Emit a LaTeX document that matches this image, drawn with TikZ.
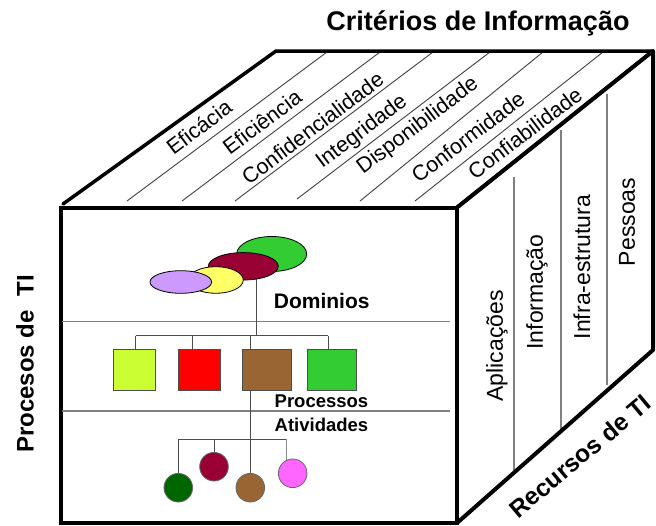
\documentclass[tikz,border=0pt]{standalone}
\usepackage{fontspec}
\setmainfont{Liberation Sans}
\usetikzlibrary{shapes.geometric}
\definecolor{clime}{HTML}{CCFF33}
\definecolor{cred}{HTML}{FF0000}
\definecolor{cbrown}{HTML}{996633}
\definecolor{cgreen}{HTML}{33CC33}
\definecolor{cmaroon}{HTML}{990033}
\definecolor{cyellow}{HTML}{FFFF66}
\definecolor{clav}{HTML}{CC99FF}
\definecolor{cdkgreen}{HTML}{006600}
\definecolor{cpink}{HTML}{FF66FF}
\definecolor{cgrayline}{HTML}{808080}
\begin{document}
\begin{tikzpicture}[x=1pt,y=-1pt,
  edge/.style={line width=4pt,line join=round,line cap=round},
  thinline/.style={line width=0.9pt,draw=black!75},
  grayline/.style={line width=1.1pt,draw=cgrayline},
  tree/.style={line width=1pt,draw=black!70},
  ell/.style={ellipse,draw=black,line width=0.8pt,inner sep=0pt},
  sq/.style={rectangle,draw=black!70,line width=1pt,inner sep=0pt,minimum height=40.7pt},
  dot/.style={circle,draw=black!60,line width=0.8pt,inner sep=0pt,minimum size=28.6pt},
  toplbl/.style={font=\fontsize{21.5}{21.5}\selectfont,rotate=37,inner sep=0pt},
  sidelbl/.style={font=\fontsize{23}{23}\selectfont,rotate=90,inner sep=0pt},
  boldlbl/.style={font=\bfseries\fontsize{18.5}{18.5}\selectfont,inner sep=0pt}]
\useasboundingbox (0,0) rectangle (656,525);
\fill[white] (0,0) rectangle (656,525);

% ---- top face
\draw[thinline] (127,201) -- (327,52);
\draw[thinline] (182,201) -- (380,52);
\draw[thinline] (235,201) -- (433,52);
\draw[thinline] (297,199) -- (490,52);
\draw[thinline] (360,201) -- (543,52);
\draw[thinline] (415,201) -- (603,52);
\draw[edge,line width=3.5pt] (63,204) -- (276,51) -- (653,51) -- (457,207.5);

\node[toplbl] (t1) at (199,127) {Eficácia};
\node[toplbl] (t2) at (262,122) {Eficiência};
\node[toplbl] (t3) at (312.5,128) {Confidencialidade};
\node[toplbl] (t4) at (362,132) {Integridade};
\node[toplbl] (t5) at (418,126) {Disponibilidade};
\node[toplbl] (t6) at (468,137) {Conformidade};
\node[toplbl] (t7) at (525,133) {Confiabilidade};

% ---- right face
\draw[grayline] (514,177) -- (514,470);
\draw[grayline] (561,130) -- (561,431);
\draw[grayline] (607,94) -- (607,385);
\draw[edge] (457,207.5) -- (653,51) -- (653,350) -- (457,523);
\node[sidelbl] (r1) at (497,346) {Aplicações};
\node[sidelbl] (r2) at (537,292) {Informação};
\node[sidelbl] (r3) at (582,267) {Infra-estrutura};
\node[sidelbl] (r4) at (627,222) {Pessoas};

% ---- front face
\draw[edge,line cap=butt,line join=miter] (61,207.5) rectangle (457,523);
\draw[grayline] (62,321.7) -- (450,321.7);
\draw[grayline] (62,411) -- (450,411);

% boxes and circles
\node[sq,fill=clime,minimum width=41.7pt] (b1) at (134.8,369.7) {};
\node[sq,fill=cred,minimum width=41.7pt] (b2) at (199.2,369.7) {};
\node[sq,fill=cbrown,minimum width=49pt] (b3) at (267.2,369.7) {};
\node[sq,fill=cgreen,minimum width=49pt] (b4) at (331.5,369.7) {};

\coordinate (j0) at (256.7,335.7);
\coordinate (j1) at (135.7,335.7);
\coordinate (j2) at (192.7,335.7);
\coordinate (j3) at (250.3,335.7);
\coordinate (j4) at (328.3,335.7);
\coordinate (k1) at (178.3,439.3);
\coordinate (k2) at (214,439.3);
\coordinate (k4) at (286,439.3);

% ellipses
\coordinate (e0) at (256.7,270);
\draw[tree] (e0) -- (j0);
\node[ell,fill=cgreen,minimum width=70pt,minimum height=35pt] (eg) at (271.7,254) {};
\node[ell,fill=cmaroon,minimum width=70pt,minimum height=27.4pt] (em) at (243.3,266.3) {};
\node[ell,fill=cyellow,minimum width=55pt,minimum height=26.6pt] (ey) at (215.8,280) {};
\node[ell,fill=clav,minimum width=61.6pt,minimum height=22.6pt] (el) at (180.8,282) {};

\draw[tree] (j1) -- (j4);
\draw[tree] (j1) -- (j1 |- b1.north);
\draw[tree] (j2) -- (j2 |- b2.north);
\draw[tree] (j3) -- (j3 |- b3.north);
\draw[tree] (j4) -- (j4 |- b4.north);

\node[dot,fill=cdkgreen] (c1) at (178.3,487.7) {};
\node[dot,fill=cmaroon] (c2) at (214,466.7) {};
\node[dot,fill=cbrown] (c3) at (250.3,487.7) {};
\node[dot,fill=cpink] (c4) at (292.7,473.3) {};

\draw[tree] (j3 |- b3.south) -- (c3.north);
\draw[tree] (k1) -- (k4);
\draw[tree] (k1) -- (c1.north);
\draw[tree] (k2) -- (c2.north);
\draw[tree] (k4) -- (k4 |- c4.north) -- ++(0,2.2);

\node[boldlbl,font=\bfseries\fontsize{21}{21}\selectfont] (dom) at (321.7,301) {Dominios};
\node[boldlbl] (proc) at (321.5,401) {Processos};
\node[boldlbl] (ativ) at (321.5,425) {Atividades};

% ---- outer labels
\node[font=\bfseries\fontsize{27}{27}\selectfont,inner sep=0pt] (title) at (478,23) {Critérios de Informação};
\node[font=\bfseries\fontsize{24}{24}\selectfont,rotate=90,inner sep=0pt] (ptl) at (25,364) {Procesos de\ \ TI};
\node[font=\bfseries\fontsize{24.5}{24.5}\selectfont,rotate=40,inner sep=0pt] (rtl) at (580,456) {Recursos de TI};
\end{tikzpicture}
\end{document}
